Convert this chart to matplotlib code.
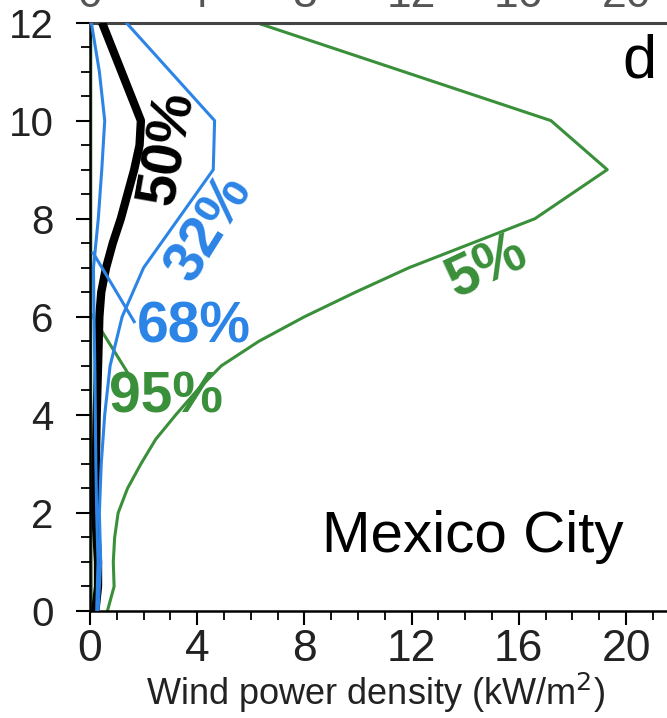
import matplotlib
matplotlib.use("Agg")
import matplotlib.pyplot as plt
from matplotlib.ticker import MultipleLocator
from matplotlib.transforms import blended_transform_factory

plt.rcParams['font.family'] = ['Liberation Sans', 'DejaVu Sans']

# Wind power density profiles (kW/m^2) against height (km), by percentile
h_p05 = [0, 0.5, 1, 1.5, 2, 2.5, 3, 3.5, 4, 4.5, 5, 5.5, 6, 6.5, 7, 8, 9, 10, 12]
p05 = [0.65, 0.9, 0.87, 0.92, 1.05, 1.4, 1.9, 2.45, 3.2, 4.0, 4.9, 6.3, 8.0, 9.9, 11.9, 16.6, 19.3, 17.2, 6.2]

h_p32 = [0, 1, 2, 3, 4, 5, 6, 7, 8, 9, 10, 12]
p32 = [0.3, 0.4, 0.35, 0.42, 0.55, 0.75, 1.2, 2.0, 3.3, 4.6, 4.65, 1.35]

h_p50 = [0, 0.5, 1, 2, 3, 4, 5, 6, 6.5, 7, 7.5, 8, 8.5, 9, 9.5, 10, 12]
p50 = [0.2, 0.3, 0.3, 0.2, 0.22, 0.25, 0.3, 0.35, 0.42, 0.6, 0.85, 1.15, 1.4, 1.65, 1.85, 1.9, 0.45]

h_p68 = [0, 1, 2, 3, 4, 5, 6, 7, 8, 9, 10, 11, 12]
p68 = [0.25, 0.3, 0.25, 0.22, 0.2, 0.18, 0.15, 0.13, 0.31, 0.44, 0.55, 0.35, 0.05]

h_p95 = [0, 2, 4, 6, 8, 10, 12]
p95 = [0.05, 0.04, 0.03, 0.03, 0.03, 0.03, 0.03]

x_ticks = [0, 4, 8, 12, 16, 20]
y_ticks = [0, 2, 4, 6, 8, 10, 12]

BLUE = '#2c84e6'
GREEN = '#3a8f3a'
TICK_COLOR = '#222222'
TICK_FONT = ['Liberation Sans Narrow', 'Liberation Sans', 'DejaVu Sans']

fig = plt.figure(figsize=(6.67, 7.18), dpi=100)
ax = fig.add_axes([0.1349, 0.149, 0.884, 0.8196])

ax.plot(p95, h_p95, color=GREEN, lw=2.2, zorder=2)
ax.plot(p05, h_p05, color=GREEN, lw=2.2, zorder=2)
ax.plot(p50, h_p50, color='black', lw=6.0, zorder=3, solid_capstyle='butt')
ax.plot(p68, h_p68, color=BLUE, lw=2.2, zorder=4)
ax.plot(p32, h_p32, color=BLUE, lw=2.2, zorder=4)

# leader lines from the low-percentile curves to their labels
ax.plot([0.12, 1.65], [7.3, 5.9], color=BLUE, lw=2.2, zorder=4)
ax.plot([0.05, 1.45], [6.05, 4.82], color=GREEN, lw=2.2, zorder=2)

lab = dict(fontsize=41, fontweight='bold', ha='center', va='center',
           rotation_mode='anchor')
ax.text(2.92, 9.44, '50%', color='black', rotation=80, **lab)
ax.text(4.48, 7.81, '32%', color=BLUE, rotation=58, **lab)
ax.text(3.86, 5.78, '68%', color=BLUE, rotation=0, **lab)
ax.text(2.85, 4.35, '95%', color=GREEN, rotation=0, **lab)
ax.text(14.8, 7.0, '5%', color=GREEN, rotation=25, **lab)

ax.text(14.3, 1.2, 'Mexico City', fontsize=42, ha='center', va='baseline')
ax.text(20.5, 10.87, 'd', fontsize=44, ha='center', va='baseline')

ax.set_xlim(0, 22)
ax.set_ylim(0, 12)
ax.set_xticks(x_ticks)
ax.set_yticks(y_ticks)
ax.xaxis.set_minor_locator(MultipleLocator(1))
ax.yaxis.set_minor_locator(MultipleLocator(0.5))
ax.tick_params(which='major', direction='out', length=10, width=1.5,
               labelcolor=TICK_COLOR)
ax.tick_params(which='minor', direction='out', length=6.5, width=1.3)
ax.tick_params(axis='y', pad=16)
ax.tick_params(axis='x', pad=3)
for lbl in ax.get_yticklabels():
    lbl.set_fontfamily(TICK_FONT)
    lbl.set_fontsize(29)
for lbl in ax.get_xticklabels():
    lbl.set_fontfamily(TICK_FONT)
    lbl.set_fontsize(32)

for side in ('left', 'bottom'):
    ax.spines[side].set_linewidth(1.8)
ax.spines['top'].set_color('#444444')
ax.spines['top'].set_linewidth(2.2)
ax.spines['right'].set_visible(False)

# tick labels of the panel stacked above, mostly cut off at the top edge
trans = blended_transform_factory(ax.transData, fig.transFigure)
for t in x_ticks:
    fig.text(t, 1 - 7 / 718, str(t), transform=trans, fontsize=32,
             family=TICK_FONT, color='#555555', ha='center', va='baseline')

fig.text(375 / 667, 1 - 705 / 718, 'Wind power density (kW/m$^2$)',
         fontsize=26, color=TICK_COLOR, ha='center', va='baseline')

fig.savefig('out.png', dpi=100)
